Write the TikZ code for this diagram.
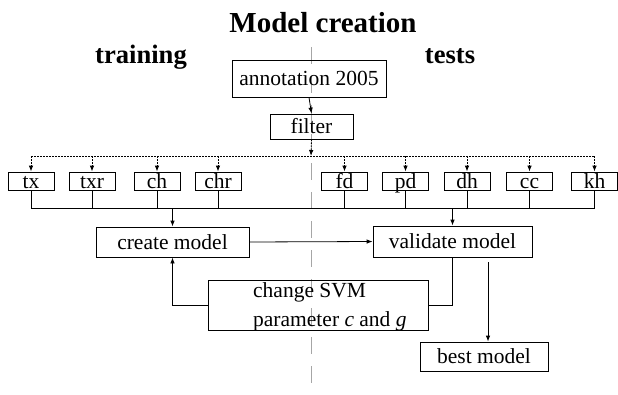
\documentclass[tikz,border=0pt]{standalone}
\usepackage{fontspec}
\setmainfont{Liberation Serif}
\usetikzlibrary{arrows.meta}
\newcommand\boxfont{\fontsize{21.5}{25}\selectfont}
\tikzset{
  box/.style={draw, line width=0.8pt, inner sep=0pt, font=\boxfont},
  smallbox/.style={box, minimum width=46pt, text height=16pt, text depth=2pt},
  arr/.style={-{Latex[length=6pt,width=4.5pt]}, line width=0.8pt},
  dotarr/.style={arr, dash pattern=on 1.5pt off 1.5pt},
  ln/.style={line width=0.8pt},
  heading/.style={font=\bfseries\fontsize{26.6}{30}\selectfont, anchor=base, inner sep=0pt},
  plain/.style={font=\boxfont, anchor=base west, inner sep=0pt},
}
\begin{document}
\begin{tikzpicture}[x=1pt,y=-1pt]
\useasboundingbox (0,0) rectangle (618,394);
% divider
\draw[gray!70, line width=0.9pt, dash pattern=on 17pt off 12pt] (311,47) -- (311,394);
% headings
\node[heading, font=\bfseries\fontsize{29}{33}\selectfont] (title) at (323,32) {Model creation};
\node[heading] (train) at (141,63) {training};
\node[heading] (tests) at (450,63) {tests};
% boxes
\node[box, minimum width=154pt, minimum height=37pt] (annot) at (309,78.5) {annotation 2005};
\node[box, minimum width=83pt, minimum height=25pt] (filter) at (311.5,126.5) {filter};
\node[smallbox] (tx)  at (31,181)   {tx};
\node[smallbox] (txr) at (92,181)   {txr};
\node[smallbox] (ch)  at (157,181)  {ch};
\node[smallbox] (chr) at (218,181)  {chr};
\node[smallbox] (fd)  at (344.5,181) {fd};
\node[smallbox] (pd)  at (405.5,181) {pd};
\node[smallbox] (dh)  at (467,181)  {dh};
\node[smallbox] (cc)  at (529.5,181) {cc};
\node[smallbox] (kh)  at (594.5,181) {kh};
\node[box, minimum width=153pt, minimum height=30pt] (create) at (172.5,242) {create model};
\node[box, minimum width=159pt, minimum height=31pt] (valid) at (452.5,241.5) {validate model};
\node[box, minimum width=220pt, minimum height=50pt] (change) at (318,305) {};
\node[plain] (ch1) at (253,297) {change SVM};
\node[plain] (ch2) at (253,326) {parameter \textit{c} and \textit{g}};
\node[box, minimum width=128pt, minimum height=29pt] (best) at (484,356.5) {best model};
% coordinates
\coordinate (dl) at (311,156);
\coordinate (sl) at (311,208);
\coordinate (bm) at (488,262);
% connectors
\draw[arr] (annot.south) -- (filter.north);
\draw[dotarr] (filter.south) -- (dl);
\draw[ln, dash pattern=on 1.5pt off 1.5pt] (tx.north |- dl) -- (kh.north |- dl);
\foreach \b in {tx,txr,ch,chr,fd,pd,dh,cc,kh}{
  \draw[dotarr] (\b.north |- dl) -- (\b.north);
  \draw[ln] (\b.south) -- (\b.south |- sl);
}
\draw[ln] (tx.south |- sl) -- (kh.south |- sl);
\draw[arr] (create.north |- sl) -- (create.north);
\draw[arr] (valid.north |- sl) -- (valid.north);
\draw[arr] (create.east) -- (valid.west);
\draw[ln] (valid.south) |- (change.east);
\draw[arr] (change.west) -| (create.south);
\draw[arr] (bm) -- (bm |- best.north);
\end{tikzpicture}
\end{document}
